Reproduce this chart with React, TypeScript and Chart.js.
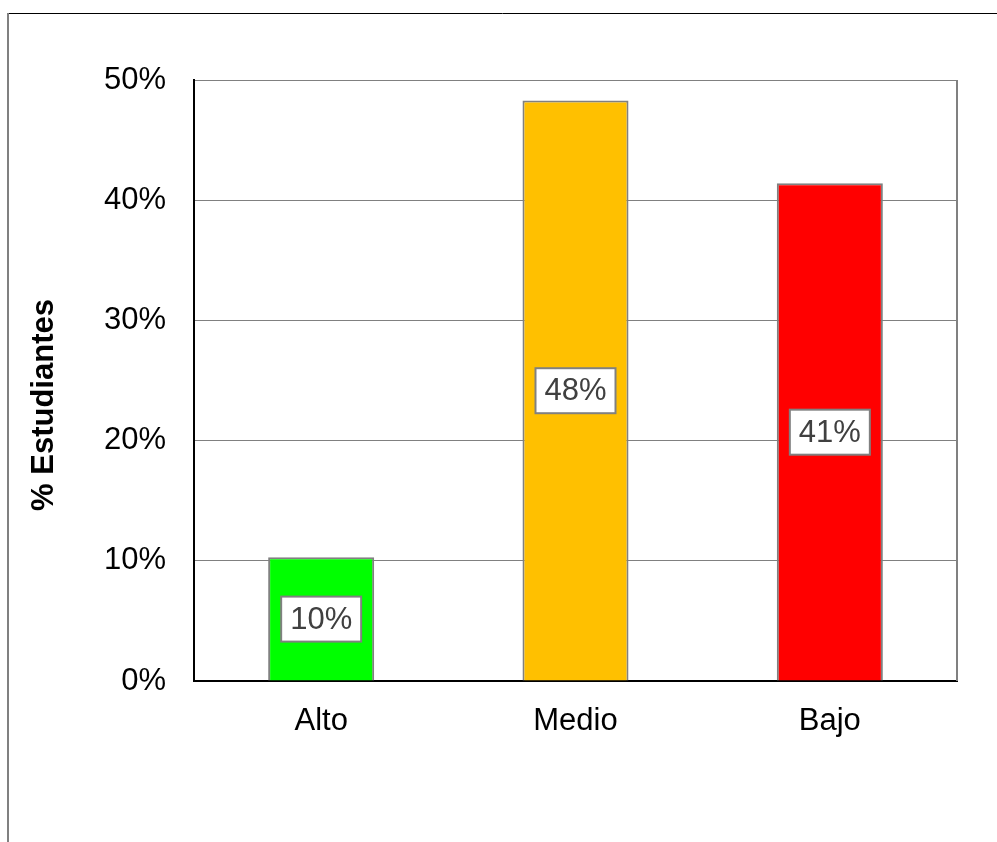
import React, { useEffect, useRef } from "react";
import { Chart, registerables } from "chart.js";

Chart.register(...registerables);

const categories = ["Alto", "Medio", "Bajo"];
const values = [10.3, 48.3, 41.4];
const barColors = ["#00FF00", "#FFC000", "#FF0000"];
const yTicks = [0, 10, 20, 30, 40, 50];
const yTitle = "% Estudiantes";

const FONT = "'Liberation Sans', Arial, sans-serif";

const framePlugin = {
  id: "frame",
  beforeDraw(chart: any) {
    const ctx = chart.ctx;
    ctx.save();
    ctx.fillStyle = "#ffffff";
    ctx.fillRect(0, 0, chart.width, chart.height);
    ctx.strokeStyle = "#000000";
    ctx.lineWidth = 1;
    ctx.beginPath();
    ctx.moveTo(8, 13.5);
    ctx.lineTo(chart.width, 13.5);
    ctx.stroke();
    ctx.strokeStyle = "#808080";
    ctx.lineWidth = 2;
    ctx.beginPath();
    ctx.moveTo(8, 13);
    ctx.lineTo(8, chart.height);
    ctx.stroke();
    ctx.restore();
  },
  afterDraw(chart: any) {
    const ctx = chart.ctx;
    const a = chart.chartArea;
    ctx.save();
    // right plot border
    ctx.strokeStyle = "#808080";
    ctx.lineWidth = 2;
    ctx.beginPath();
    ctx.moveTo(a.right, a.top);
    ctx.lineTo(a.right, a.bottom);
    ctx.stroke();
    // y axis title
    ctx.fillStyle = "#000000";
    ctx.font = `bold 31px ${FONT}`;
    ctx.textAlign = "center";
    ctx.textBaseline = "middle";
    ctx.translate(44, 405);
    ctx.rotate(-Math.PI / 2);
    ctx.fillText(yTitle, 0, 0);
    ctx.restore();
  },
};

const labelPlugin = {
  id: "boxLabels",
  afterDatasetsDraw(chart: any) {
    const ctx = chart.ctx;
    const meta = chart.getDatasetMeta(0);
    const yScale = chart.scales.y;
    ctx.save();
    ctx.font = `31px ${FONT}`;
    ctx.textAlign = "center";
    ctx.textBaseline = "middle";
    meta.data.forEach((bar: any, i: number) => {
      const v = values[i];
      const text = Math.round(v) + "%";
      const cx = bar.x;
      const cy = (yScale.getPixelForValue(v) + yScale.getPixelForValue(0)) / 2;
      const w = 80;
      const h = 45;
      ctx.fillStyle = "#ffffff";
      ctx.fillRect(cx - w / 2, cy - h / 2, w, h);
      ctx.strokeStyle = "#808080";
      ctx.lineWidth = 2;
      ctx.strokeRect(cx - w / 2, cy - h / 2, w, h);
      ctx.fillStyle = "#404040";
      ctx.fillText(text, cx, cy + 1);
    });
    ctx.restore();
  },
};

export default function App() {
  const ref = useRef<HTMLCanvasElement | null>(null);
  useEffect(() => {
    if (!ref.current) return;
    const chart = new Chart(ref.current, {
      type: "bar",
      data: {
        labels: categories,
        datasets: [
          {
            data: values,
            backgroundColor: barColors,
            borderColor: "#808080",
            borderWidth: 2,
            categoryPercentage: 1,
            barPercentage: 0.417,
          },
        ],
      },
      options: {
        responsive: false,
        animation: false,
        layout: { padding: { top: 80, right: 40, left: 0, bottom: 0 } },
        plugins: {
          legend: { display: false },
          tooltip: { enabled: false },
        },
        scales: {
          x: {
            grid: { display: false, drawTicks: false },
            border: { display: true, color: "#000000", width: 2 },
            ticks: {
              color: "#000000",
              font: { family: FONT, size: 31 },
              padding: 22,
            },
            afterFit(scale: any) {
              scale.height = 161;
            },
          },
          y: {
            min: 0,
            max: 50,
            afterBuildTicks(scale: any) {
              scale.ticks = yTicks.map((v) => ({ value: v }));
            },
            ticks: {
              color: "#000000",
              font: { family: FONT, size: 31 },
              padding: 28,
              callback: (v: any) => v + "%",
            },
            grid: { color: "#808080", lineWidth: 1, drawTicks: false },
            border: { display: true, color: "#000000", width: 2 },
            afterFit(scale: any) {
              scale.width = 194;
            },
          },
        },
      },
      plugins: [framePlugin, labelPlugin],
    });
    return () => chart.destroy();
  }, []);
  return (
    <div style={{ position: "absolute", left: 0, top: 0, width: 997, height: 842 }}>
      <canvas ref={ref} width={997} height={842} style={{ display: "block" }} />
    </div>
  );
}
